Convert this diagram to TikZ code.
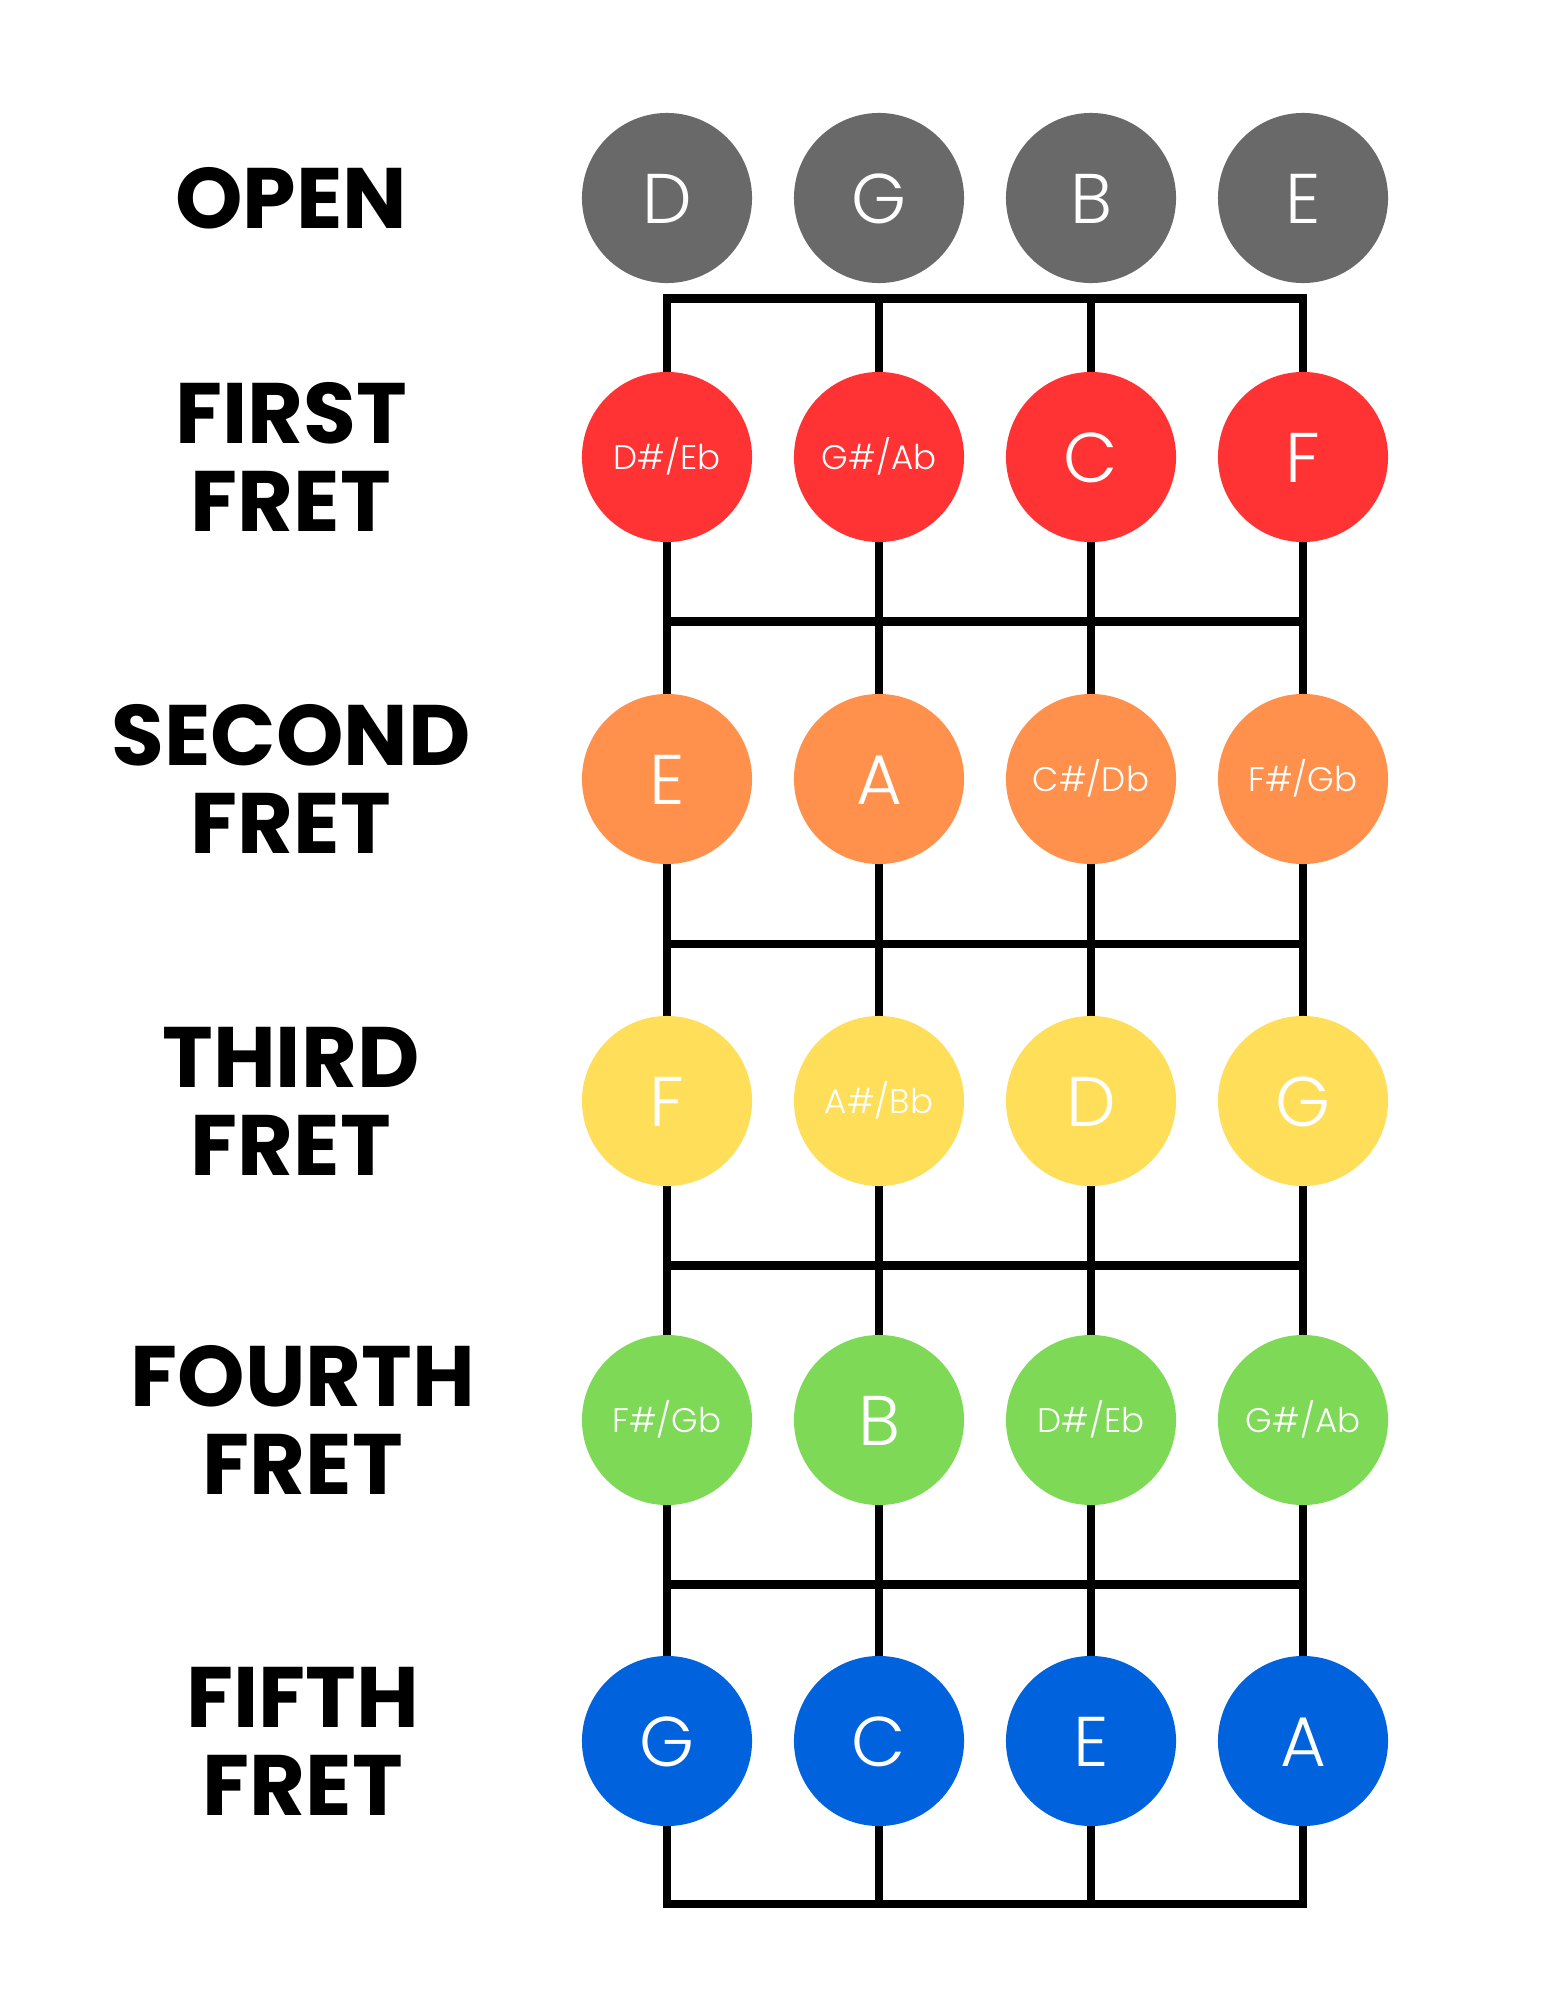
\documentclass[tikz,border=0pt]{standalone}
\usepackage{fontspec}
\setmainfont{Poppins}
\newfontfamily\notefont{Poppins Light}
\usepackage{tikz}
\usetikzlibrary{positioning}
\definecolor{fb@gray}{RGB}{105,105,105}
\definecolor{fb@red}{RGB}{255,51,51}
\definecolor{fb@orange}{RGB}{255,145,77}
\definecolor{fb@yellow}{RGB}{255,222,89}
\definecolor{fb@green}{RGB}{126,217,87}
\definecolor{fb@blue}{RGB}{0,98,220}
\tikzset{
  fretboard/.style={
    x=0.01cm, y=-0.01cm,
    every node/.style={inner sep=0pt}
  },
  fretline/.style={               % frame, frets and strings
    draw=black, line width=0.087cm
  },
  note/.style={                   % one dot on the board
    circle, minimum size=1.7cm, inner sep=0pt,
    text=white,
    text height=0.5cm, text depth=0pt,
    font=\notefont\fontsize{20}{20}\selectfont
  },
  smallnote/.style={              % sharp/flat dot
    note,
    text height=0.24cm,
    font=\notefont\fontsize{9.7}{10}\selectfont
  },
  rowlabel/.style={
    align=center,
    font=\bfseries\fontsize{24.4}{25}\selectfont
  }
}

\begin{document}
\begin{tikzpicture}[fretboard]
\useasboundingbox (0,0) rectangle (1545,2000);

% Board corners
\coordinate (nw) at (667,298.5);
\coordinate (se) at (1303,1904);

% Frets
\coordinate (f1l) at (667,621.5);  \coordinate (f1r) at (1303,621.5);
\coordinate (f2l) at (667,944);    \coordinate (f2r) at (1303,944);
\coordinate (f3l) at (667,1265.5); \coordinate (f3r) at (1303,1265.5);
\coordinate (f4l) at (667,1584.5); \coordinate (f4r) at (1303,1584.5);

% Inner strings
\coordinate (s2t) at (879,298.5);  \coordinate (s2b) at (879,1904);
\coordinate (s3t) at (1091,298.5); \coordinate (s3b) at (1091,1904);

\draw[fretline] (nw) rectangle (se);
\draw[fretline] (f1l) -- (f1r);
\draw[fretline] (f2l) -- (f2r);
\draw[fretline] (f3l) -- (f3r);
\draw[fretline] (f4l) -- (f4r);
\draw[fretline] (s2t) -- (s2b);
\draw[fretline] (s3t) -- (s3b);

% Open strings
\node[rowlabel] (lopen) at (291,198) {OPEN};
\node[note, fill=fb@gray] (o1) at (667,198)  {D};
\node[note, fill=fb@gray] (o2) at (879,198)  {G};
\node[note, fill=fb@gray] (o3) at (1091,198) {B};
\node[note, fill=fb@gray] (o4) at (1303,198) {E};

% First fret
\node[rowlabel] (lfirst) at (291,457) {FIRST\\FRET};
\node[smallnote, fill=fb@red] (a1) at (667,457)  {D\#/Eb};
\node[smallnote, fill=fb@red] (a2) at (879,457)  {G\#/Ab};
\node[note, fill=fb@red]      (a3) at (1091,457) {C};
\node[note, fill=fb@red]      (a4) at (1303,457) {F};

% Second fret
\node[rowlabel] (lsecond) at (291,779) {SECOND\\FRET};
\node[note, fill=fb@orange]      (b1) at (667,779)  {E};
\node[note, fill=fb@orange]      (b2) at (879,779)  {A};
\node[smallnote, fill=fb@orange] (b3) at (1091,779) {C\#/Db};
\node[smallnote, fill=fb@orange] (b4) at (1303,779) {F\#/Gb};

% Third fret
\node[rowlabel] (lthird) at (291,1101) {THIRD\\FRET};
\node[note, fill=fb@yellow]      (c1) at (667,1101)  {F};
\node[smallnote, fill=fb@yellow] (c2) at (879,1101)  {A\#/Bb};
\node[note, fill=fb@yellow]      (c3) at (1091,1101) {D};
\node[note, fill=fb@yellow]      (c4) at (1303,1101) {G};

% Fourth fret
\node[rowlabel] (lfourth) at (303,1420) {FOURTH\\FRET};
\node[smallnote, fill=fb@green] (d1) at (667,1420)  {F\#/Gb};
\node[note, fill=fb@green]      (d2) at (879,1420)  {B};
\node[smallnote, fill=fb@green] (d3) at (1091,1420) {D\#/Eb};
\node[smallnote, fill=fb@green] (d4) at (1303,1420) {G\#/Ab};

% Fifth fret
\node[rowlabel] (lfifth) at (303,1741) {FIFTH\\FRET};
\node[note, fill=fb@blue] (e1) at (667,1741)  {G};
\node[note, fill=fb@blue] (e2) at (879,1741)  {C};
\node[note, fill=fb@blue] (e3) at (1091,1741) {E};
\node[note, fill=fb@blue] (e4) at (1303,1741) {A};

\end{tikzpicture}
\end{document}
